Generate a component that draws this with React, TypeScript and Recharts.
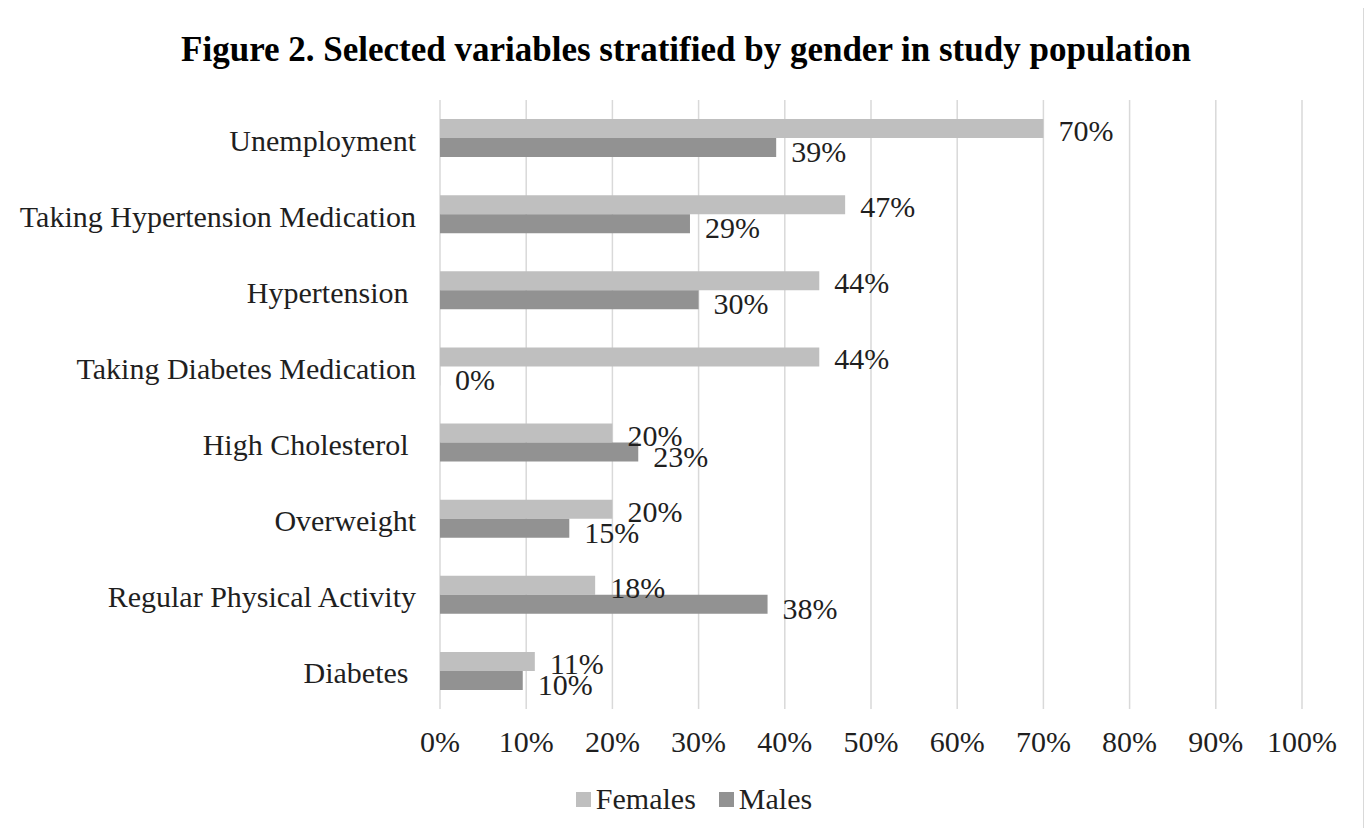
import React from "react";
import { BarChart, Bar, XAxis, YAxis, CartesianGrid, LabelList } from "recharts";

const categories = [
  "Unemployment",
  "Taking Hypertension Medication",
  "Hypertension\u00A0",
  "Taking Diabetes Medication",
  "High Cholesterol\u00A0",
  "Overweight",
  "Regular Physical Activity",
  "Diabetes\u00A0",
];
const females = [70, 47, 44, 44, 20, 20, 18, 11];
const males = [39, 29, 30, 0, 23, 15, 38, 9.6];
const xTicks = [0, 10, 20, 30, 40, 50, 60, 70, 80, 90, 100];

const data = categories.map((name, i) => ({ name, Females: females[i], Males: males[i] }));

const FONT = "'Liberation Serif', 'Times New Roman', serif";
const TEXT = "#1f1f1f";
const FEMALE = "#bfbfbf";
const MALE = "#929292";
const FS = 30;

const XTick = (props: any) => {
  const { x, y, payload } = props;
  return (
    <text x={x} y={y + 24} textAnchor="middle" dominantBaseline="central" fontFamily={FONT} fontSize={FS} fill={TEXT}>
      {payload.value}%
    </text>
  );
};

const YTick = (props: any) => {
  const { x, y, payload } = props;
  return (
    <text x={x - 16} y={y + 2} textAnchor="end" dominantBaseline="central" fontFamily={FONT} fontSize={FS} fill={TEXT}>
      {payload.value}
    </text>
  );
};

const makeLabel = (dy: number) => (props: any) => {
  const { x, y, width, height, value } = props;
  return (
    <text x={x + width + 15} y={y + height / 2 + dy} textAnchor="start" dominantBaseline="central" fontFamily={FONT} fontSize={FS} fill={TEXT}>
      {Math.round(value)}%
    </text>
  );
};

export default function App() {
  return (
    <div style={{ position: "relative", width: 1372, height: 836, margin: -8, overflow: "hidden", background: "#fff" }}>
      <div style={{ position: "absolute", left: 7, top: 5, width: 1357, height: 900, border: "1.5px solid #d9d9d9", boxSizing: "border-box" }} />
      <div style={{ position: "absolute", left: 0, top: 29, width: 1372, textAlign: "center", fontFamily: FONT, fontWeight: "bold", fontSize: 35, lineHeight: "42px", color: "#000" }}>
        Figure 2. Selected variables stratified by gender in study population
      </div>
      <div style={{ position: "absolute", left: 0, top: 0 }}>
        <BarChart
          width={1372}
          height={836}
          data={data}
          layout="vertical"
          margin={{ top: 100, right: 70, bottom: 97, left: 0 }}
          barGap={0}
          barSize={19}
        >
          <CartesianGrid horizontal={false} stroke="#d9d9d9" strokeWidth={1.5} />
          <XAxis type="number" domain={[0, 100]} ticks={xTicks} axisLine={false} tickLine={false} tick={<XTick />} interval={0} height={30} />
          <YAxis type="category" dataKey="name" width={440} axisLine={false} tickLine={false} tick={<YTick />} interval={0} />
          <Bar dataKey="Females" fill={FEMALE} isAnimationActive={false}>
            <LabelList dataKey="Females" content={makeLabel(2)} />
          </Bar>
          <Bar dataKey="Males" fill={MALE} minPointSize={0.1} isAnimationActive={false}>
            <LabelList dataKey="Males" content={makeLabel(4)} />
          </Bar>
        </BarChart>
      </div>
      <div style={{ position: "absolute", left: 8, top: 781, width: 1372, display: "flex", justifyContent: "center", alignItems: "center", fontFamily: FONT, fontSize: FS, lineHeight: "36px", color: TEXT }}>
        <span style={{ display: "inline-block", width: 15, height: 15, background: FEMALE, marginRight: 5 }} />
        <span style={{ marginRight: 23 }}>Females</span>
        <span style={{ display: "inline-block", width: 15, height: 15, background: MALE, marginRight: 5 }} />
        <span>Males</span>
      </div>
    </div>
  );
}
